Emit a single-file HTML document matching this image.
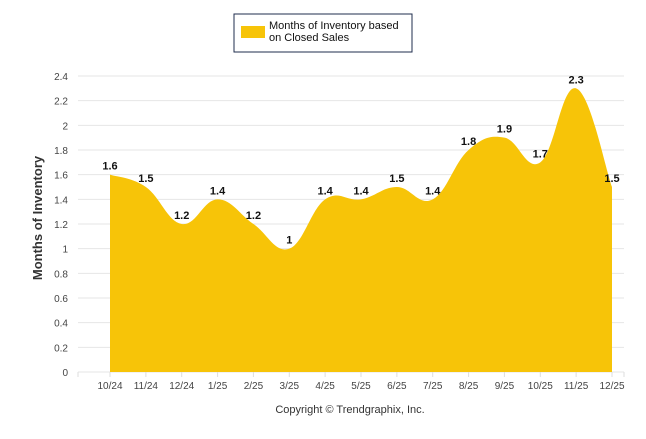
<!DOCTYPE html>
<html><head><meta charset="utf-8"><style>
body{margin:0;background:#fff;font-family:"Liberation Sans",sans-serif}
svg text{font-family:"Liberation Sans",sans-serif}
</style></head><body>
<svg id="c" width="646" height="434">
<g>
<rect x="234" y="14" width="178" height="38" fill="#fff" stroke="#1f2d4d" stroke-width="1"/>
<rect x="241" y="26" width="24" height="12" fill="#f7c408"/>
<text x="269" y="29" font-size="11" fill="#111">Months of Inventory based</text>
<text x="269" y="41" font-size="11" fill="#111">on Closed Sales</text>
</g>
<g id="grid"></g><g id="area"></g><g id="labels"></g>
<text transform="translate(42,218) rotate(-90)" text-anchor="middle" font-size="13" font-weight="bold" fill="#333">Months of Inventory</text>
<text x="350" y="413" text-anchor="middle" font-size="11" fill="#333">Copyright © Trendgraphix, Inc.</text>
</svg>
<script>
const categories=["10/24","11/24","12/24","1/25","2/25","3/25","4/25","5/25","6/25","7/25","8/25","9/25","10/25","11/25","12/25"];
const values=[1.6,1.5,1.2,1.4,1.2,1.0,1.4,1.4,1.5,1.4,1.8,1.9,1.7,2.3,1.5];
const yTicks=[0,0.2,0.4,0.6,0.8,1,1.2,1.4,1.6,1.8,2,2.2,2.4];
const NS="http://www.w3.org/2000/svg";
const x0=110,x1=612,yb=372,yt=76,ymax=2.4;
const X=i=>x0+i*(x1-x0)/(categories.length-1);
const Y=v=>yb-(v/ymax)*(yb-yt);
function mk(t,a,p){const e=document.createElementNS(NS,t);for(const k in a)e.setAttribute(k,a[k]);p.appendChild(e);return e;}
const grid=document.getElementById('grid');
yTicks.forEach(v=>{
 const l=mk('line',{x1:78,x2:624,y1:Y(v),y2:Y(v),stroke:'#e6e6e6'},grid);
 
 
 const t=mk('text',{x:68,y:Y(v)+4,'text-anchor':'end','font-size':10,fill:'#444'},grid);
 t.textContent=String(v);
 
 
});
const step=(x1-x0)/(categories.length-1);
for(let i=0;i<=categories.length;i++){
 const tx=i==0?78:(i==categories.length?624:X(i-1)+ (i==0?0:0));
}
[78].concat(categories.map((c,i)=>X(i)),[624]).forEach(tx=>{
 const l=mk('line',{x1:tx,x2:tx,y1:yb,y2:yb+5,stroke:'#ddd'},grid);
 
 
});
categories.forEach((c,i)=>{
 const t=mk('text',{x:X(i),y:389,'text-anchor':'middle','font-size':10,fill:'#444'},grid);
 t.textContent=c;
 
 
});
const pts=values.map((v,i)=>[X(i),Y(v)]);
let d=`M${pts[0][0]},${yb} L${pts[0][0]},${pts[0][1]}`;
for(let i=0;i<pts.length-1;i++){
 const p0=pts[Math.max(0,i-1)],p1=pts[i],p2=pts[i+1],p3=pts[Math.min(pts.length-1,i+2)];
 const k=0.2;
 d+=` C${p1[0]+(p2[0]-p0[0])*k},${p1[1]+(p2[1]-p0[1])*k} ${p2[0]-(p3[0]-p1[0])*k},${p2[1]-(p3[1]-p1[1])*k} ${p2[0]},${p2[1]}`;
}
d+=` L${pts[pts.length-1][0]},${yb} Z`;
const a=mk('path',{d:d,fill:'#f7c408'},document.getElementById('area'));


const lab=document.getElementById('labels');
values.forEach((v,i)=>{
 const t=mk('text',{x:X(i),y:Y(v)-5,'text-anchor':'middle','font-size':11,'font-weight':'bold',fill:'#111'},lab);
 t.textContent=String(v);
 
 
});
</script>
</body></html>
